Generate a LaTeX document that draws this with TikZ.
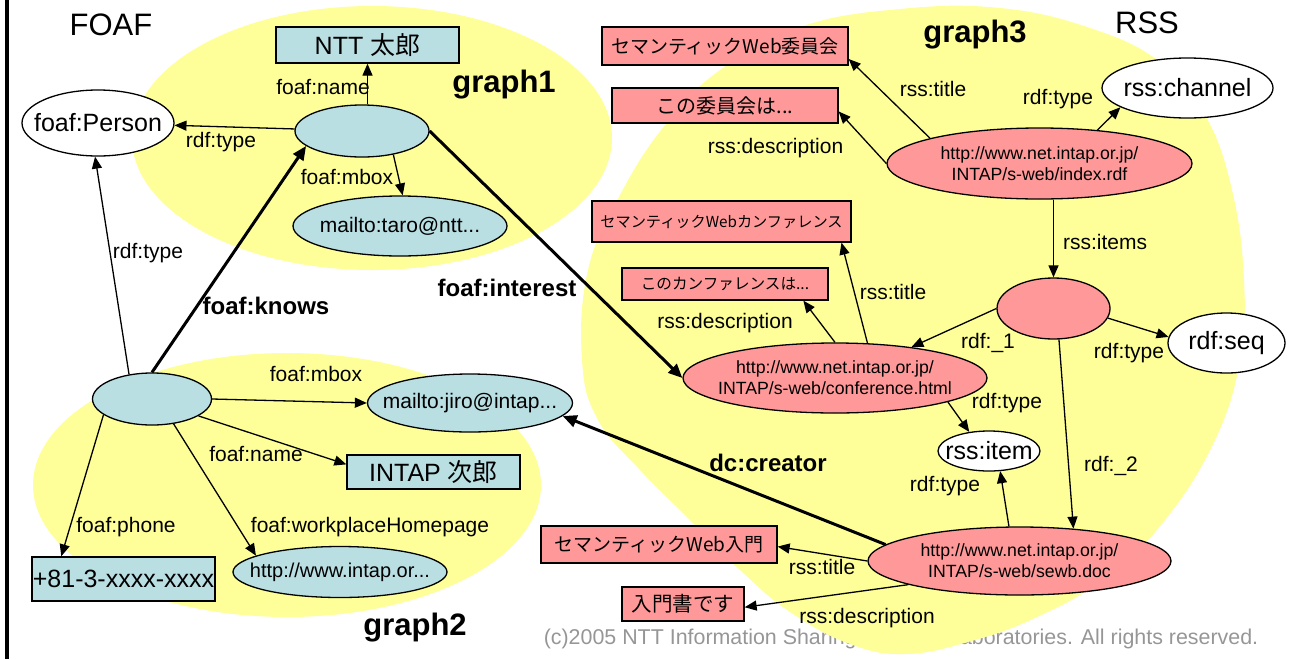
\documentclass[tikz,border=0pt]{standalone}
\usepackage{fontspec}
\setmainfont{Liberation Sans}
\newfontfamily\jp{Noto Sans CJK JP}
\usetikzlibrary{shapes.geometric,arrows.meta}
\definecolor{litblue}{RGB}{185,223,227}
\definecolor{respink}{RGB}{255,153,153}
\definecolor{grpyellow}{RGB}{255,255,153}
\definecolor{copygray}{RGB}{150,150,150}
\newcommand{\fsz}[2]{\fontsize{#1}{#2}\selectfont}

\begin{document}
\begin{tikzpicture}%
  [x=1pt,y=-1pt,
   lit/.style=
    {draw,fill=litblue,line width=1.3pt,inner sep=0pt,font=\fsz{25}{30}},
   blank/.style=
    {ellipse,draw,fill=litblue,line width=1.3pt,inner sep=-40pt,font=\fsz{21}{25}},
   res/.style=
    {ellipse,draw,fill=respink,line width=1.3pt,inner sep=-40pt,align=center,font=\fsz{17.7}{21}},
   rlit/.style=
    {draw,fill=respink,line width=1.3pt,inner sep=0pt},
   cls/.style=
    {ellipse,draw,fill=white,line width=1.3pt,inner sep=-40pt,font=\fsz{25}{30}},
   prop/.style={inner sep=0pt,font=\fsz{21}{25}},
   bprop/.style={inner sep=0pt,font=\bfseries\fsz{24}{28}},
   title/.style={inner sep=0pt,font=\fsz{31}{36}},
   gname/.style={inner sep=0pt,font=\bfseries\fsz{31}{36}},
   edge/.style={line width=1.3pt,-{Triangle[length=12pt,width=10pt]}},
   bedge/.style={line width=3pt,-{Triangle[length=14pt,width=12pt]}}
  ]
  \useasboundingbox (0,0) rectangle (1290,659);
  \draw[line width=3.5pt] (7,0) -- (7,659);

  \node[inner sep=0pt,text=copygray,font=\fsz{21.4}{25}] (copy) at (901,639)
    {(c)2005 NTT Information Sharing Platform Laboratories. All rights reserved.};

  % graphs
  \fill[grpyellow] (372,138) ellipse [x radius=240,y radius=132];
  \fill[grpyellow] (287,485) ellipse [x radius=254,y radius=132];
  \fill[grpyellow] plot[smooth cycle,tension=0.7] coordinates
    {(900,9) (1000,8) (1090,28) (1160,62) (1205,115) (1232,190) (1244,280)
     (1240,360) (1215,440) (1165,520) (1105,578) (1035,618) (968,642)
     (905,654) (850,644) (790,612) (740,570) (690,520) (640,470) (598,420)
     (582,360) (588,270) (620,195) (665,125) (720,70) (800,27)};

  \node[title] (foaf) at (111,25) {FOAF};
  \node[title] (rss) at (1147,23) {RSS};
  \node[gname] (g1) at (504,85) {graph1};
  \node[gname] (g2) at (415,628) {graph2};
  \node[gname] (g3) at (975,35) {graph3};

  % FOAF
  \node[cls,minimum width=152pt,minimum height=66pt] (person) at (98,123) {foaf:Person};
  \node[lit,minimum width=183pt,minimum height=36pt] (ntt) at (367.5,45) {NTT {\jp 太郎}};
  \node[blank,minimum width=134pt,minimum height=52pt] (taro) at (362,131) {};
  \node[blank,minimum width=214pt,minimum height=60pt] (mtaro) at (400,226) {mailto:taro@ntt...};
  \node[blank,minimum width=119pt,minimum height=52pt] (jiro) at (152,399) {};
  \node[blank,minimum width=205pt,minimum height=58pt] (mjiro) at (470,403) {mailto:jiro@intap...};
  \node[lit,minimum width=173pt,minimum height=34pt] (jname) at (433.5,472) {INTAP {\jp 次郎}};
  \node[lit,minimum width=183pt,minimum height=44pt] (phone) at (123.5,579) {+81-3-xxxx-xxxx};
  \node[blank,font=\fsz{20}{24},minimum width=214pt,minimum height=51pt] (hpage) at (340,572) {http://www.intap.or...};

  % RSS
  \node[rlit,font=\jp\fsz{19}{23},minimum width=246pt,minimum height=38pt] (iinkai) at (725,46) {セマンティックWeb委員会};
  \node[rlit,font=\jp\fsz{20}{24},minimum width=226pt,minimum height=35pt] (idesc) at (725,105.5) {この委員会は...};
  \node[res,minimum width=305pt,minimum height=71pt] (index) at (1039.5,163.5)
    {http://www.net.intap.or.jp/\\INTAP/s-web/index.rdf};
  \node[cls,minimum width=171pt,minimum height=60pt] (channel) at (1187.5,88) {rss:channel};
  \node[res,minimum width=113pt,minimum height=61pt] (seqn) at (1053.5,308.5) {};
  \node[cls,minimum width=117pt,minimum height=60pt] (rdfseq) at (1226.5,343) {rdf:seq};
  \node[rlit,font=\jp\fsz{15.2}{19},minimum width=259pt,minimum height=41pt] (ctitle) at (721.5,221.5) {セマンティックWebカンファレンス};
  \node[rlit,font=\jp\fsz{15.6}{19},minimum width=206pt,minimum height=32pt] (cdesc) at (725,284) {このカンファレンスは...};
  \node[res,minimum width=304pt,minimum height=70pt] (conf) at (835,378)
    {http://www.net.intap.or.jp/\\INTAP/s-web/conference.html};
  \node[cls,minimum width=102pt,minimum height=40pt] (item) at (989,451) {rss:item};
  \node[res,minimum width=303pt,minimum height=68pt] (sewb) at (1019.5,561)
    {http://www.net.intap.or.jp/\\INTAP/s-web/sewb.doc};
  \node[rlit,font=\jp\fsz{19}{23},minimum width=236pt,minimum height=37pt] (stitle) at (659,544.5) {セマンティックWeb入門};
  \node[rlit,font=\jp\fsz{20.5}{24},minimum width=122pt,minimum height=34pt] (sdesc) at (683,604) {入門書です};

  % edges
  \draw[edge] (taro.north -| ntt.south) -- (ntt);
  \draw[edge] (taro) -- (person);
  \draw[edge] (taro.-37) -- (mtaro.85);
  \draw[bedge] (taro.east) -- (conf.west);
  \draw[edge] (jiro.133) -- (person.-95);
  \draw[bedge] (jiro.north) -- (taro.195);
  \draw[edge] (jiro.east) -- (mjiro.west);
  \draw[edge] (jiro.-20) -- (jname.175);
  \draw[edge] (jiro.198) -- (phone.160);
  \draw[edge] (jiro.-49) -- (hpage.169);

  \draw[edge] (index.30) -- (channel.196);
  \draw[edge] (index.167) -- (iinkai.-6);
  \draw[edge] (index.west) -- (idesc.-3);
  \draw[edge] (index.south -| seqn.north) -- (seqn.north);
  \draw[edge] (seqn.west) -- (conf.22);
  \draw[edge] (seqn.-10) -- (rdfseq.174);
  \draw[edge] (seqn.-80) -- (sewb.31);
  \draw[edge] (conf.47) -- (ctitle.-10);
  \draw[edge] (conf.north) -- (cdesc.-12);
  \draw[edge] (conf.-12) -- (item.136);
  \draw[edge] (sewb.107) -- (item.-61);
  \draw[edge] (sewb.west) -- (stitle.-1);
  \draw[edge] (sewb.192) -- (sdesc.-3);
  \draw[bedge] (sewb.173) -- (mjiro.-8);

  % properties
  \node[prop] (lname1) at (323,87) {foaf:name};
  \node[prop] (ltype1) at (221,142) {rdf:type};
  \node[prop] (lmbox1) at (347,177) {foaf:mbox};
  \node[bprop] (linterest) at (507,288) {foaf:interest};
  \node[bprop] (lknows) at (266,306) {foaf:knows};
  \node[prop] (ltype2) at (148,253) {rdf:type};
  \node[prop] (lmbox2) at (316,374) {foaf:mbox};
  \node[prop] (lname2) at (256,454) {foaf:name};
  \node[prop] (lphone) at (126,527) {foaf:phone};
  \node[prop] (lhome) at (370,527) {foaf:workplaceHomepage};
  \node[prop] (ltitle3) at (933,89) {rss:title};
  \node[prop] (ltype3) at (1058,99) {rdf:type};
  \node[prop] (ldesc3) at (775.5,148) {rss:description};
  \node[prop] (litems) at (1105,242) {rss:items};
  \node[prop] (ltitle4) at (893,292) {rss:title};
  \node[prop] (ldesc4) at (725,323) {rss:description};
  \node[prop] (l1) at (988,343) {rdf:\_1};
  \node[prop] (ltype4) at (1129,353) {rdf:type};
  \node[prop] (ltype5) at (1007,403) {rdf:type};
  \node[prop] (l2) at (1111,466) {rdf:\_2};
  \node[prop] (ltype6) at (945,486) {rdf:type};
  \node[bprop] (lcreator) at (768,463) {dc:creator};
  \node[prop] (ltitle5) at (822,567) {rss:title};
  \node[prop] (ldesc5) at (867,618) {rss:description};

\end{tikzpicture}
\end{document}
